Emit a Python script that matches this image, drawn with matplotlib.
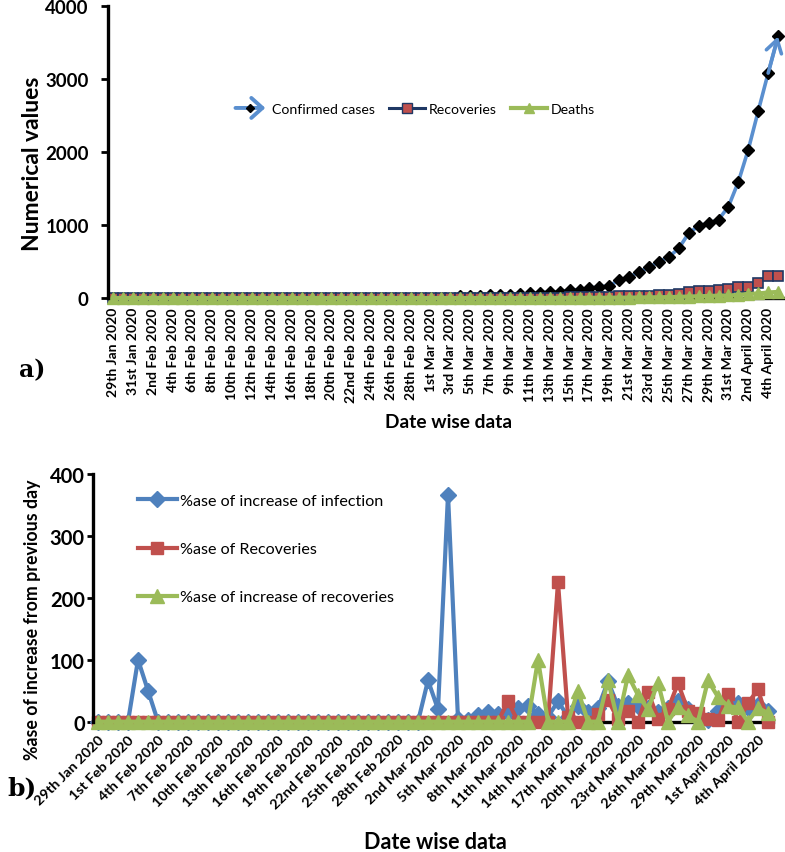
import matplotlib
matplotlib.use('Agg')
import matplotlib.pyplot as plt
import numpy as np
import pandas as pd
from matplotlib.lines import Line2D
from matplotlib.patches import FancyArrowPatch
from matplotlib.legend_handler import HandlerBase

plt.rcParams['font.family'] = ['Lato', 'DejaVu Sans']

# ---------------- categories ----------------
dates = pd.date_range('2020-01-29', '2020-04-05', freq='D')
month_names = {1: 'Jan', 2: 'Feb', 3: 'Mar', 4: 'April'}


def suffix(d):
    if 10 <= d % 100 <= 20:
        return 'th'
    return {1: 'st', 2: 'nd', 3: 'rd'}.get(d % 10, 'th')


date_labels = [f"{d.day}{suffix(d.day)} {month_names[d.month]} 2020" for d in dates]

# ---------------- panel a) values ----------------
confirmed = [0, 1, 1, 1, 2, 3, 3, 3, 3, 3,
             3, 3, 3, 3, 3, 3, 3, 3, 3, 3,
             3, 3, 3, 3, 3, 3, 3, 3, 3, 3,
             3, 3, 3, 5, 6, 28, 30, 31, 34, 39,
             43, 50, 62, 74, 81, 84, 110, 114, 137, 151,
             168, 244, 286, 358, 418, 499, 562, 680, 887, 988,
             1024, 1071, 1251, 1590, 2030, 2558, 3078, 3580]

recoveries = [0, 0, 0, 0, 0, 0, 0, 0, 0, 0,
              0, 0, 0, 0, 0, 0, 0, 0, 0, 0,
              0, 0, 3, 3, 3, 3, 3, 3, 3, 3,
              3, 3, 3, 3, 3, 3, 3, 3, 3, 3,
              3, 4, 4, 4, 4, 4, 13, 14, 14, 14,
              16, 22, 23, 27, 27, 40, 42, 50, 75, 92,
              102, 108, 118, 155, 155, 205, 300, 300]

deaths = [0, 0, 0, 0, 0, 0, 0, 0, 0, 0,
          0, 0, 0, 0, 0, 0, 0, 0, 0, 0,
          0, 0, 0, 0, 0, 0, 0, 0, 0, 0,
          0, 0, 0, 0, 0, 0, 0, 0, 0, 0,
          0, 0, 0, 1, 2, 2, 2, 2, 3, 3,
          4, 5, 5, 7, 9, 10, 12, 16, 20, 24,
          27, 32, 35, 41, 56, 62, 75, 83]

# ---------------- panel b) values ----------------
infection_pct = [0, 0, 0, 0, 100, 50, 0, 0, 0, 0,
                 0, 0, 0, 0, 0, 0, 0, 0, 0, 0,
                 0, 0, 0, 0, 0, 0, 0, 0, 0, 0,
                 0, 0, 0, 66.7, 20, 366.7, 4, 3, 10, 15,
                 12, 14, 22, 25, 12, 8, 33, 8, 25, 15,
                 22, 65, 25, 30, 25, 22, 15, 22, 33, 20,
                 4, 2, 18, 27, 30, 22, 27, 18]

recovery_pct = [0, 0, 0, 0, 0, 0, 0, 0, 0, 0,
                0, 0, 0, 0, 0, 0, 0, 0, 0, 0,
                0, 0, 0, 0, 0, 0, 0, 0, 0, 0,
                0, 0, 0, 0, 0, 0, 0, 0, 0, 0,
                0, 33, 0, 0, 0, 0, 225, 8, 0, 0,
                12, 35, 4, 18, 0, 48, 5, 20, 62, 18,
                14, 4, 2, 45, 0, 30, 52, 0]

death_pct = [0, 0, 0, 0, 0, 0, 0, 0, 0, 0,
             0, 0, 0, 0, 0, 0, 0, 0, 0, 0,
             0, 0, 0, 0, 0, 0, 0, 0, 0, 0,
             0, 0, 0, 0, 0, 0, 0, 0, 0, 0,
             0, 0, 0, 0, 100, 0, 0, 0, 50, 0,
             0, 66.7, 0, 75, 43, 20, 63, 0, 24, 10,
             0, 66.7, 40, 25, 23, 0, 22, 14]

BLUE = '#4F81BD'
BLUE_LIGHT = '#5A8FCF'
RED = '#C0504D'
GREEN = '#9BBB59'
NAVY = '#1F3864'

x = np.arange(len(dates))

fig = plt.figure(figsize=(7.85, 8.53), dpi=100)

# ================= panel a =================
ax1 = fig.add_axes([0.1376, 0.6495, 0.8599, 0.3426])
ax1.plot(x, confirmed, color=BLUE_LIGHT, lw=2.6, marker='D', ms=6.5, mfc='black',
         mec='black', zorder=3, clip_on=False)
ax1.annotate('', xy=(x[-1], confirmed[-1]), xytext=(x[-2], confirmed[-2]),
             arrowprops=dict(arrowstyle='->,head_length=0.45,head_width=0.28',
                             color=BLUE_LIGHT, lw=2.6, shrinkA=0, shrinkB=0,
                             mutation_scale=20), zorder=3)
ax1.plot(x, recoveries, color=NAVY, lw=2.2, marker='s', ms=7.5, mfc=RED,
         mec=NAVY, mew=1.2, zorder=4, clip_on=False)
ax1.plot(x, deaths, color=GREEN, lw=3, marker='^', ms=8, mfc=GREEN,
         mec=GREEN, zorder=5, clip_on=False)

ax1.set_xlim(-0.5, len(x) - 0.5)
ax1.set_ylim(0, 4000)
ax1.set_yticks([0, 1000, 2000, 3000, 4000])
ax1.set_xticks(x[::2])
ax1.set_xticklabels(date_labels[::2], rotation=90, fontsize=10, fontweight='bold')
for lab in ax1.get_yticklabels():
    lab.set_fontweight('bold')
ax1.tick_params(axis='y', labelsize=13.5, length=4.8, width=2, direction='out', pad=9)
ax1.tick_params(axis='x', length=0, pad=6.5)
for s in ['top', 'right']:
    ax1.spines[s].set_visible(False)
ax1.spines['left'].set_linewidth(2.4)
ax1.spines['bottom'].set_linewidth(2.4)
ax1.spines['left'].set_zorder(6)
ax1.spines['bottom'].set_zorder(1)


class ArrowHandler(HandlerBase):
    def create_artists(self, legend, orig_handle, xdescent, ydescent, width,
                       height, fontsize, trans):
        y = height / 2 - ydescent
        arr = FancyArrowPatch((-xdescent, y), (width - xdescent, y),
                              arrowstyle='->,head_length=0.5,head_width=0.45',
                              mutation_scale=16, lw=2.8, color=BLUE_LIGHT,
                              transform=trans)
        dot = Line2D([width / 2 - xdescent], [y], marker='D', ms=4,
                     color='black', ls='none', transform=trans)
        return [arr, dot]


h_conf = Line2D([], [], color=BLUE)
h_rec = Line2D([], [], color=NAVY, lw=2.2, marker='s', ms=7, mfc=RED, mec=NAVY)
h_dea = Line2D([], [], color=GREEN, lw=3, marker='^', ms=7, mfc=GREEN, mec=GREEN)
ax1.legend([h_conf, h_rec, h_dea], ['Confirmed cases', 'Recoveries', 'Deaths'],
           handler_map={h_conf: ArrowHandler()}, loc='center',
           bbox_to_anchor=(0.453, 0.647), ncol=3, frameon=False, fontsize=10.2,
           handlelength=2.5, columnspacing=1.0, handletextpad=0.3)

fig.text(0.042, 0.8077, 'Numerical values', rotation=90, ha='center',
         va='center', fontsize=16.5, fontweight='bold')
fig.text(0.571, 0.505, 'Date wise data', ha='center', va='center',
         fontsize=13.8, fontweight='bold')
fig.text(0.041, 0.566, 'a)', ha='center', va='center', fontsize=17,
         fontweight='bold', family='DejaVu Serif')

# ================= panel b =================
ax2 = fig.add_axes([0.1185, 0.1528, 0.8662, 0.2904])
ax2.plot(x, infection_pct, color=BLUE, lw=3, marker='D', ms=8, mfc=BLUE,
         mec=BLUE, zorder=3, clip_on=False, label='%ase of increase of infection')
ax2.plot(x, recovery_pct, color=RED, lw=3, marker='s', ms=9, mfc=RED,
         mec=RED, zorder=4, clip_on=False, label='%ase of Recoveries')
ax2.plot(x, death_pct, color=GREEN, lw=3, marker='^', ms=10, mfc=GREEN,
         mec=GREEN, zorder=5, clip_on=False, label='%ase of increase of recoveries')

ax2.set_xlim(-0.5, len(x) - 0.5)
ax2.set_ylim(0, 400)
ax2.set_yticks([0, 100, 200, 300, 400])
ax2.set_xticks(x[::3])
ax2.set_xticklabels(date_labels[::3], rotation=45, ha='right', va='top',
                    rotation_mode='anchor', fontsize=10.4, fontweight='bold')
for lab in ax2.get_yticklabels():
    lab.set_fontweight('bold')
ax2.tick_params(axis='y', labelsize=14.5, length=4.5, width=2, direction='out', pad=1.5)
ax2.tick_params(axis='x', length=0, pad=8)
for s in ['top', 'right']:
    ax2.spines[s].set_visible(False)
ax2.spines['left'].set_linewidth(2.4)
ax2.spines['bottom'].set_linewidth(2.4)
ax2.spines['left'].set_zorder(6)
ax2.spines['bottom'].set_zorder(1)

ax2.legend(loc='center left', bbox_to_anchor=(0.066, 0.697), frameon=False,
           fontsize=11.6, handlelength=2.4, handletextpad=0.2, labelspacing=2.1,
           borderpad=0, borderaxespad=0)

fig.text(0.042, 0.2731, '%ase of increase from previous day', rotation=90,
         ha='center', va='center', fontsize=12.8, fontweight='bold')
fig.text(0.554, 0.012, 'Date wise data', ha='center', va='center',
         fontsize=15.5, fontweight='bold')
fig.text(0.028, 0.076, 'b)', ha='center', va='center', fontsize=18,
         fontweight='bold', family='DejaVu Serif')

fig.savefig('out.png', dpi=100)
